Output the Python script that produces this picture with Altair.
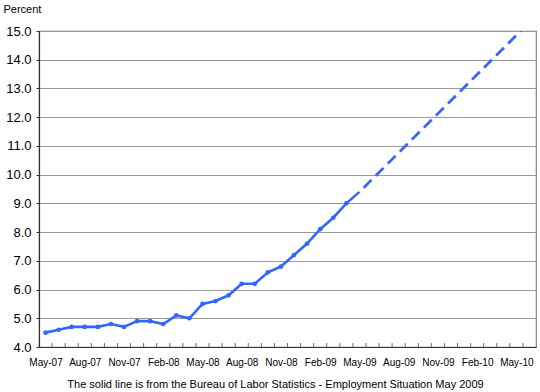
import json
import altair as alt
import pandas as pd

# Category axis: one slot per month
months = [
    "May-07", "Jun-07", "Jul-07", "Aug-07", "Sep-07", "Oct-07", "Nov-07", "Dec-07",
    "Jan-08", "Feb-08", "Mar-08", "Apr-08", "May-08", "Jun-08", "Jul-08", "Aug-08",
    "Sep-08", "Oct-08", "Nov-08", "Dec-08", "Jan-09", "Feb-09", "Mar-09", "Apr-09",
    "May-09", "Jun-09", "Jul-09", "Aug-09", "Sep-09", "Oct-09", "Nov-09", "Dec-09",
    "Jan-10", "Feb-10", "Mar-10", "Apr-10", "May-10", "Jun-10",
]

# Solid line (BLS actual), May-07 .. May-09
bls_months = months[:25]
bls_values = [4.5, 4.6, 4.7, 4.7, 4.7, 4.8, 4.7, 4.9, 4.9, 4.8, 5.1, 5.0,
              5.5, 5.6, 5.8, 6.2, 6.2, 6.6, 6.8, 7.2, 7.6, 8.1, 8.5, 9.0, 9.4]
bls_marker = [True] * 24 + [False]

# Dashed projection
proj_months = ["May-09", "Jun-10"]
proj_values = [9.4, 15.3]

# Axis labels
tick_labels = ["May-07", "Aug-07", "Nov-07", "Feb-08", "May-08", "Aug-08", "Nov-08",
               "Feb-09", "May-09", "Aug-09", "Nov-09", "Feb-10", "May-10"]
y_ticks = [4.0, 5.0, 6.0, 7.0, 8.0, 9.0, 10.0, 11.0, 12.0, 13.0, 14.0, 15.0]

caption = "The solid line is from the Bureau of Labor Statistics - Employment Situation May 2009"

FONT = "Liberation Sans"
BLUE = "#3366ff"
DARK = "#333333"

bls_df = pd.DataFrame({
    "idx": [months.index(m) for m in bls_months],
    "rate": bls_values,
    "marker": bls_marker,
})
proj_df = pd.DataFrame({
    "idx": [months.index(m) for m in proj_months],
    "rate": proj_values,
})
bound_df = pd.DataFrame({
    "b": [i + 0.5 for i in range(len(months) - 1)],
    "base": [y_ticks[0]] * (len(months) - 1),
})

label_expr = json.dumps(months) + "[round(datum.value)]"

x_scale = alt.Scale(domain=[-0.5, len(months) - 0.5], nice=False, zero=False)
y_scale = alt.Scale(domain=[4, 15], nice=False, zero=False)

x_axis = alt.Axis(
    values=[months.index(t) for t in tick_labels],
    labelExpr=label_expr,
    labelOverlap=False,
    tickSize=0,
    grid=False,
    domainColor=DARK,
    domainWidth=1.2,
    labelFont=FONT,
    labelFontSize=10,
    labelColor="#000000",
    labelPadding=10,
    title=caption,
    titleFont=FONT,
    titleFontSize=11,
    titleFontWeight="normal",
    titleColor="#000000",
    titleAlign="center",
    titleAnchor="start",
    titleBaseline="alphabetic",
    titleX=236,
    titleY=40,
)
y_axis = alt.Axis(
    values=y_ticks,
    format=".1f",
    labelOverlap=False,
    tickSize=3,
    tickColor=DARK,
    grid=True,
    gridColor="#999999",
    gridWidth=1.2,
    domainColor=DARK,
    domainWidth=1.2,
    labelFont=FONT,
    labelFontSize=13,
    labelColor="#000000",
    labelPadding=5,
    title="Percent",
    titleFont=FONT,
    titleFontSize=11,
    titleFontWeight="normal",
    titleColor="#000000",
    titleAngle=0,
    titleAlign="left",
    titleBaseline="alphabetic",
    titleX=-36,
    titleY=-19,
)

X = lambda f: alt.X(f, scale=x_scale, axis=x_axis)
Y = lambda f: alt.Y(f, scale=y_scale, axis=y_axis)

solid = alt.Chart(bls_df).mark_line(color=BLUE, strokeWidth=2.6).encode(
    x=X("idx:Q"), y=Y("rate:Q"),
)
points = alt.Chart(bls_df).transform_filter("datum.marker").mark_point(
    filled=True, color=BLUE, size=22, opacity=1
).encode(x=X("idx:Q"), y=Y("rate:Q"))

dashed = alt.Chart(proj_df).mark_line(
    color=BLUE, strokeWidth=2.8, strokeDash=[11, 6], strokeDashOffset=11, clip=True
).encode(x=X("idx:Q"), y=Y("rate:Q"))

xticks = alt.Chart(bound_df).mark_tick(
    orient="vertical", size=4, thickness=1, color=DARK, yOffset=-2
).encode(x=X("b:Q"), y=Y("base:Q"))

chart = alt.layer(xticks, solid, points, dashed).properties(
    width=497,
    height=316,
    autosize=alt.AutoSizeParams(type="none"),
    padding={"left": 39, "top": 31, "right": 4, "bottom": 45},
    background="white",
).configure_view(stroke="#808080", strokeWidth=1.2)

chart.save("out.html", embed_options={"renderer": "svg", "actions": False})
